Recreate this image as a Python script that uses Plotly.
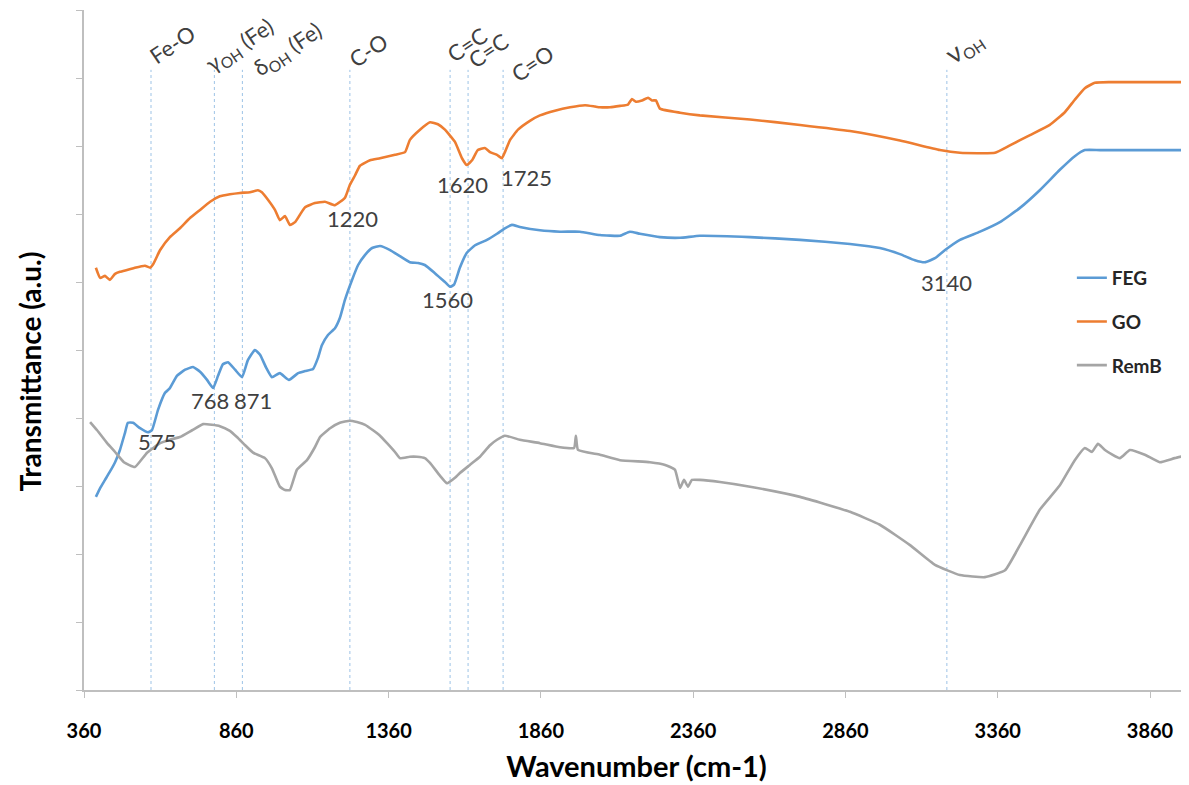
import plotly.graph_objects as go

# ---------------- data ----------------
feg_x = [399, 413, 429, 445, 462, 478, 495, 504, 521, 544, 570, 583, 603, 626, 642, 665, 692, 718, 741, 764,
         784, 800, 816, 833, 856, 879, 898, 921, 938, 958, 977, 1003, 1033, 1063, 1086, 1112, 1128, 1141, 1161, 1184,
         1200, 1217, 1240, 1260, 1283, 1306, 1332, 1365, 1397, 1430, 1457, 1479, 1512, 1545, 1562, 1575, 1594, 1617,
         1644, 1683, 1716, 1742, 1765, 1791, 1857, 1923, 1988, 2054, 2120, 2152, 2185, 2251, 2317, 2382, 2547, 2711,
         2875, 2973, 3039, 3088, 3121, 3154, 3187, 3236, 3302, 3367, 3433, 3498, 3564, 3613, 3646, 3696, 3988]
feg_y = [2.84, 2.97, 3.09, 3.21, 3.35, 3.53, 3.79, 3.93, 3.93, 3.85, 3.79, 3.82, 4.12, 4.37, 4.44, 4.62, 4.71, 4.75,
         4.68, 4.56, 4.44, 4.62, 4.79, 4.82, 4.71, 4.60, 4.85, 5.00, 4.93, 4.74, 4.60, 4.66, 4.56, 4.66, 4.69, 4.72,
         4.88, 5.07, 5.22, 5.32, 5.47, 5.74, 6.03, 6.25, 6.40, 6.50, 6.53, 6.47, 6.38, 6.29, 6.28, 6.25, 6.13, 6.00,
         5.93, 5.96, 6.21, 6.43, 6.54, 6.62, 6.71, 6.79, 6.84, 6.81, 6.76, 6.74, 6.74, 6.69, 6.68, 6.74, 6.71, 6.66,
         6.65, 6.68, 6.66, 6.62, 6.56, 6.50, 6.41, 6.32, 6.29, 6.35, 6.47, 6.62, 6.74, 6.88, 7.09, 7.35, 7.65, 7.85,
         7.94, 7.94, 7.94]

go_x = [399, 413, 429, 445, 462, 478, 504, 527, 560, 577, 587, 610, 642, 675, 708, 741, 774, 806, 839, 872, 905,
        931, 944, 964, 987, 1003, 1020, 1036, 1053, 1069, 1086, 1118, 1151, 1184, 1217, 1233, 1250, 1266, 1299, 1332,
        1381, 1414, 1430, 1463, 1496, 1522, 1545, 1578, 1601, 1617, 1634, 1653, 1676, 1693, 1716, 1732, 1742, 1759,
        1785, 1824, 1857, 1906, 1956, 2005, 2038, 2054, 2087, 2120, 2146, 2159, 2172, 2192, 2212, 2225, 2238, 2251,
        2317, 2382, 2547, 2711, 2875, 3039, 3170, 3236, 3351, 3400, 3466, 3531, 3581, 3613, 3646, 3679, 3728, 3988]
go_y = [6.21, 6.06, 6.09, 6.03, 6.12, 6.15, 6.18, 6.21, 6.24, 6.21, 6.26, 6.47, 6.66, 6.79, 6.94, 7.06, 7.18, 7.26,
        7.29, 7.31, 7.32, 7.35, 7.32, 7.21, 7.06, 6.91, 6.97, 6.84, 6.88, 6.99, 7.10, 7.16, 7.18, 7.13, 7.24, 7.43,
        7.57, 7.71, 7.79, 7.82, 7.87, 7.91, 8.09, 8.24, 8.35, 8.32, 8.24, 8.06, 7.82, 7.72, 7.79, 7.94, 7.97, 7.91,
        7.87, 7.82, 7.91, 8.09, 8.24, 8.37, 8.45, 8.52, 8.57, 8.60, 8.58, 8.57, 8.57, 8.59, 8.61, 8.69, 8.65, 8.67,
        8.71, 8.67, 8.67, 8.55, 8.49, 8.45, 8.39, 8.31, 8.22, 8.08, 7.94, 7.90, 7.90, 8.01, 8.16, 8.31, 8.50, 8.68,
        8.85, 8.93, 8.94, 8.94]

remb_x = [380, 403, 436, 462, 491, 527, 567, 610, 642, 675, 715, 751, 780, 806, 839, 862, 889, 915, 954, 977, 1003,
          1020, 1036, 1059, 1092, 1118, 1135, 1168, 1200, 1233, 1256, 1283, 1309, 1332, 1355, 1381, 1397, 1430, 1453,
          1479, 1496, 1529, 1552, 1578, 1594, 1627, 1660, 1693, 1716, 1742, 1791, 1857, 1923, 1969, 1975, 1982, 2054,
          2120, 2218, 2268, 2300, 2317, 2330, 2343, 2356, 2382, 2448, 2547, 2711, 2875, 2973, 3072, 3154, 3236, 3318,
          3384, 3433, 3498, 3564, 3613, 3646, 3669, 3689, 3712, 3761, 3794, 3843, 3892, 3941, 3988]
remb_y = [3.94, 3.82, 3.63, 3.50, 3.35, 3.28, 3.49, 3.63, 3.68, 3.72, 3.82, 3.91, 3.90, 3.88, 3.81, 3.72, 3.60, 3.49,
          3.41, 3.26, 2.99, 2.94, 2.94, 3.24, 3.38, 3.57, 3.72, 3.85, 3.93, 3.96, 3.94, 3.90, 3.82, 3.74, 3.63, 3.50,
          3.41, 3.43, 3.43, 3.41, 3.34, 3.15, 3.04, 3.12, 3.19, 3.31, 3.43, 3.60, 3.68, 3.74, 3.68, 3.63, 3.57, 3.56,
          3.74, 3.53, 3.46, 3.38, 3.35, 3.31, 3.24, 2.97, 3.09, 2.99, 3.09, 3.09, 3.06, 2.99, 2.84, 2.62, 2.43, 2.13,
          1.84, 1.69, 1.66, 1.76, 2.13, 2.65, 3.01, 3.38, 3.56, 3.50, 3.62, 3.53, 3.41, 3.53, 3.46, 3.35, 3.41, 3.46]

# band assignment lines and labels
band_pos = [580, 788, 880, 1233, 1562, 1621, 1736, 3193]
band_top = 9.12
band_labels = ["Fe-O", "γ<sub>OH</sub> (Fe)", "δ<sub>OH</sub> (Fe)", "C-O", "C=C", "C=C", "C=O",
               "<span style='font-size:27px'>ν</span><sub>OH</sub>"]
band_label_x = [649, 872, 1030, 1292, 1617, 1686, 1831, 3249]
band_label_y = [9.49, 9.47, 9.41, 9.41, 9.49, 9.41, 9.21, 9.46]

# peak value labels
peak_labels = ["575", "768", "871", "1220", "1560", "1620", "1725", "3140"]
peak_x = [600, 774, 915, 1243, 1555, 1604, 1814, 3193]
peak_y = [3.65, 4.26, 4.26, 6.94, 5.74, 7.43, 7.53, 6.00]

x_ticks = [360, 860, 1360, 1860, 2360, 2860, 3360, 3860]
y_ticks = list(range(0, 11))

FONT = "Lato, 'Open Sans', sans-serif"

fig = go.Figure()
for name, xs, ys, col in [("FEG", feg_x, feg_y, "#5B9BD5"),
                          ("GO", go_x, go_y, "#ED7D31"),
                          ("RemB", remb_x, remb_y, "#A5A5A5")]:
    fig.add_trace(go.Scatter(x=xs, y=ys, mode="lines", name=name, legendgroup=name,
                             line=dict(color=col, width=2.6, shape="spline", smoothing=0.4)))

for xp in band_pos:
    fig.add_shape(type="line", xref="x", yref="y", x0=xp, x1=xp, y0=0, y1=band_top,
                  line=dict(color="#9DC3E6", width=1, dash="dot"), layer="below")

for t, xp, yp in zip(band_labels, band_label_x, band_label_y):
    fig.add_annotation(x=xp, y=yp, xref="x", yref="y", text=t, showarrow=False, textangle=-34,
                       font=dict(family=FONT, size=22, color="#404040"))

for t, xp, yp in zip(peak_labels, peak_x, peak_y):
    fig.add_annotation(x=xp, y=yp, xref="x", yref="y", text=t, showarrow=False,
                       font=dict(family=FONT, size=22, color="#404040"))

# y-axis title (sits a little below the plot centre, as in the reference)
fig.add_annotation(x=-0.049, y=0.468, xref="paper", yref="paper", text="<b>Transmittance (a.u.)</b>",
                   showarrow=False, textangle=-90, xanchor="center", yanchor="middle",
                   font=dict(family=FONT, size=28, color="#000000"))

fig.update_layout(
    width=1189, height=785,
    margin=dict(l=76, r=8, t=2, b=103),
    paper_bgcolor="white", plot_bgcolor="white",
    font=dict(family=FONT, color="#000000"),
    legend=dict(x=0.894, y=0.634, xanchor="left", yanchor="top", traceorder="grouped",
                tracegroupgap=16, bgcolor="rgba(0,0,0,0)",
                font=dict(family=FONT, size=19, color="#262626", weight="bold")),
    xaxis=dict(range=[360, 3988], tickmode="array", tickvals=x_ticks, ticktext=[str(v) for v in x_ticks],
               automargin=False,
               showgrid=False, zeroline=False, showline=True, linecolor="#BFBFBF", linewidth=1.5,
               ticks="outside", ticklen=6, tickcolor="#BFBFBF", ticklabelstandoff=16,
               tickfont=dict(family=FONT, size=20, color="#000000", weight="bold"),
               title=dict(text="Wavenumber (cm-1)", standoff=16,
                          font=dict(family=FONT, size=29, color="#000000", weight="bold"))),
    yaxis=dict(range=[0, 10], tickmode="array", tickvals=y_ticks, showticklabels=False,
               automargin=False,
               showgrid=False, zeroline=False, showline=True, linecolor="#BFBFBF", linewidth=1.5,
               ticks="outside", ticklen=6, tickcolor="#BFBFBF"),
)

fig.write_html("out.html")
